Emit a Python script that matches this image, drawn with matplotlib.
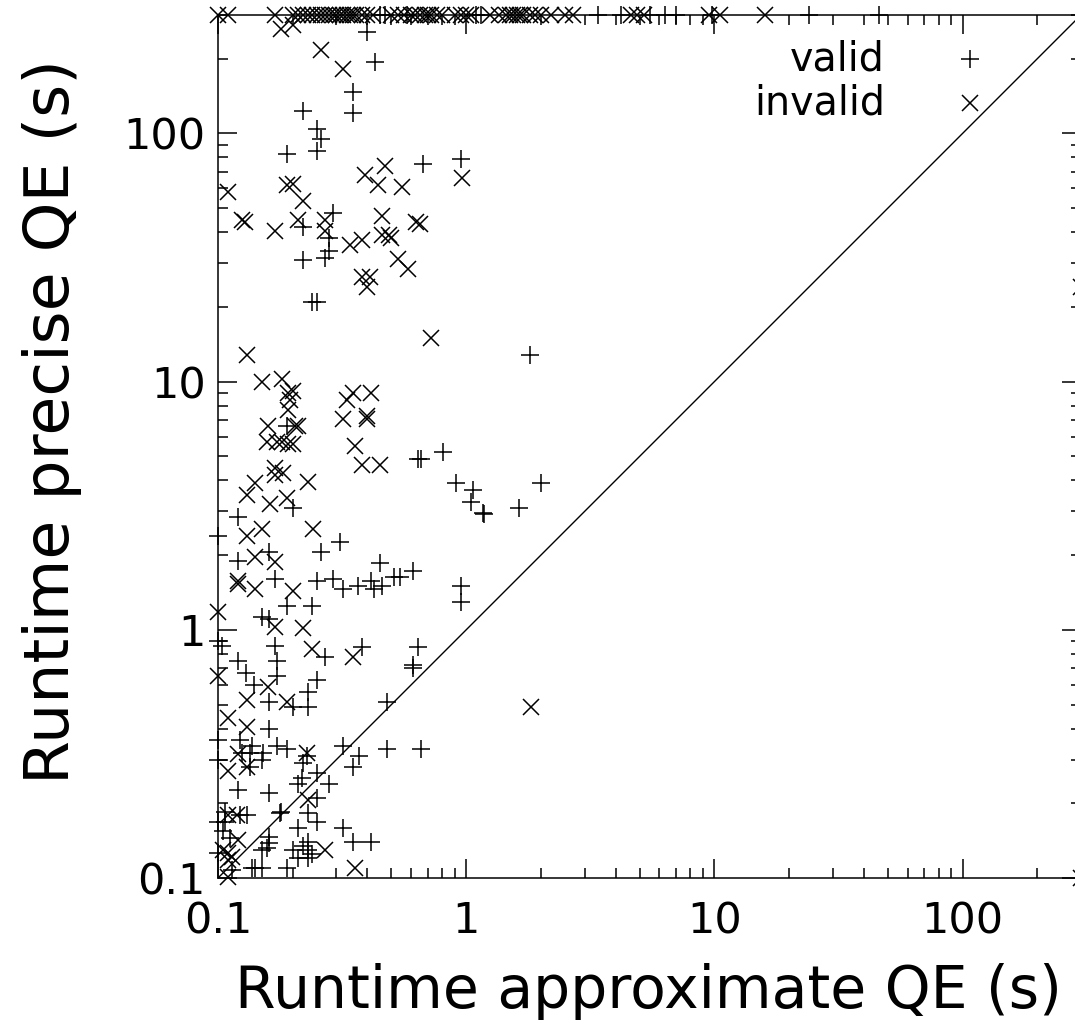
import numpy as np
import matplotlib
matplotlib.use("Agg")
import matplotlib.pyplot as plt
from matplotlib.ticker import LogLocator, FixedLocator, NullFormatter

plt.rcParams['font.family'] = ['DejaVu Sans']

TIMEOUT = 300

# valid runs (+): approximate runtime, precise runtime (s)
valid_x = [0.40, 0.43, 0.35, 0.35, 0.22, 0.25, 0.26, 0.25, 0.19, 0.67, 0.95, 0.29,
           0.22, 0.28, 0.28, 0.22, 0.27, 0.24, 0.25, 1.8,
           0.19, 0.20, 0.12, 0.16, 0.12, 0.17, 0.25, 0.29, 0.32, 0.365, 0.415, 0.427,
           0.46, 0.45, 0.51, 0.54, 0.61, 0.26, 0.31, 0.19, 0.24, 0.15, 0.16, 0.95,
           0.95, 0.64, 0.66, 0.81, 0.91, 1.07, 1.05, 1.17, 1.18, 1.63, 2.0, 0.10, 0.10,
           0.64, 0.38, 0.17, 0.27, 0.173, 0.173, 0.104, 0.12, 0.13, 0.14, 0.16, 0.23,
           0.23, 0.25, 0.20, 0.16, 0.123, 0.137, 0.152, 0.125, 0.134, 0.15, 0.134,
           0.173, 0.19, 0.228, 0.22, 0.21, 0.218, 0.25, 0.28, 0.12, 0.16, 0.25, 0.32,
           0.37, 0.35, 0.48, 0.48, 0.66, 0.61, 0.61, 0.18, 0.178, 0.23, 0.25, 0.21,
           0.32, 0.35, 0.415, 0.23, 0.23, 0.22, 0.20, 0.23, 0.24, 0.21, 0.16, 0.16,
           0.157, 0.15, 0.141, 0.15, 0.19, 0.107, 0.123, 0.131, 0.107, 0.10, 0.114,
           0.137, 0.10, 0.10, 0.10, 0.105, 0.112,
           0.45, 0.47, 0.58, 1.1, 1.15, 3.4, 4.2, 5.5, 6.3, 7.0, 9.8, 24, 46]
valid_y = [256, 194, 147, 121, 123, 104, 95, 85, 83, 75, 79, 48,
           42, 38, 33.5, 31, 31.6, 21, 21, 12.8,
           6.6, 3.1, 2.85, 2.06, 1.9, 1.6, 1.58, 1.6, 1.46, 1.5, 1.58, 1.46,
           1.5, 1.85, 1.63, 1.63, 1.73, 2.06, 2.26, 1.25, 1.25, 1.13, 1.11, 1.5,
           1.29, 4.9, 4.9, 5.2, 3.9, 3.65, 3.26, 2.95, 2.93, 3.1, 3.9, 2.39, 0.9,
           0.85, 0.85, 0.86, 0.78, 0.75, 0.65, 0.86, 0.75, 0.67, 0.6, 0.51, 0.56,
           0.49, 0.63, 0.49, 0.40, 0.36, 0.34, 0.32, 0.32, 0.32, 0.30, 0.28,
           0.34, 0.33, 0.31, 0.29, 0.24, 0.254, 0.266, 0.24, 0.227, 0.22, 0.21, 0.34,
           0.31, 0.28, 0.51, 0.33, 0.33, 0.72, 0.70, 0.185, 0.183, 0.183, 0.168, 0.159,
           0.159, 0.14, 0.14, 0.14, 0.13, 0.135, 0.13, 0.12, 0.125, 0.12, 0.146, 0.139,
           0.132, 0.13, 0.11, 0.11, 0.11, 0.185, 0.18, 0.18, 0.168, 0.168, 0.108,
           0.11, 0.126, 0.36, 0.30, 0.155, 0.145,
           TIMEOUT, TIMEOUT, TIMEOUT, TIMEOUT, TIMEOUT, TIMEOUT, TIMEOUT, TIMEOUT,
           TIMEOUT, TIMEOUT, TIMEOUT, TIMEOUT, TIMEOUT]

# invalid runs (x)
invalid_x = [0.18, 0.20, 0.26, 0.32, 0.47, 0.39, 0.44, 0.55, 0.96, 0.11, 0.19, 0.20,
             0.22, 0.125, 0.128, 0.17, 0.21, 0.27, 0.27, 0.456, 0.456, 0.49, 0.50,
             0.63, 0.65, 0.38, 0.34, 0.53, 0.585, 0.38, 0.41, 0.40, 0.72, 0.131,
             0.15, 0.181, 0.191, 0.195, 0.191, 0.20, 0.204, 0.21, 0.159, 0.157, 0.173,
             0.181, 0.191, 0.20, 0.17, 0.182, 0.17, 0.141, 0.131, 0.162, 0.189, 0.23,
             0.15, 0.131, 0.241, 0.141, 0.17, 0.12, 0.12, 0.141, 0.20, 0.10, 0.17,
             0.22, 0.33, 0.35, 0.415, 0.318, 0.397, 0.40, 0.355, 0.379, 0.448, 0.24,
             0.35, 0.10, 0.159, 0.131, 0.189, 0.11, 0.131, 0.12, 0.11, 0.131, 0.228,
             0.23, 0.12, 0.27, 0.355, 0.11, 0.119, 0.105, 0.11, 0.114, 0.11, 0.11,
             1.83, 300, 300,
             0.10, 0.11, 0.17, 0.20, 0.21, 0.22, 0.23, 0.24, 0.25, 0.26, 0.27, 0.28,
             0.29, 0.30, 0.31, 0.32, 0.33, 0.34, 0.35, 0.36, 0.38, 0.40, 0.42, 0.50,
             0.53, 0.56, 0.60, 0.62, 0.65, 0.68, 0.70, 0.72, 0.76, 0.80, 0.90, 0.95,
             1.0, 1.05, 1.25, 1.35, 1.45, 1.5, 1.55, 1.6, 1.65, 1.7, 1.8, 1.9, 2.0,
             2.2, 2.5, 2.7, 4.6, 4.9, 5.2, 9.5, 10.5, 16]
invalid_y = [264, 274, 217, 182, 74, 68, 62, 61, 66, 58, 62, 62.5,
             53.5, 44.7, 43.8, 40.6, 44.7, 44.7, 40.6, 46.6, 39, 39, 38,
             43.8, 43.3, 37.3, 35.5, 31.2, 28.5, 26.5, 26.5, 24, 15, 12.8,
             10, 10.2, 9.0, 8.4, 7.7, 9.2, 6.6, 6.6, 6.6, 5.7, 5.7,
             5.7, 5.6, 5.6, 4.5, 4.3, 4.2, 3.9, 3.5, 3.2, 3.4, 3.95,
             2.54, 2.39, 2.54, 1.97, 1.88, 1.58, 1.53, 1.46, 1.43, 1.18, 1.03,
             1.02, 8.4, 9.0, 9.0, 7.1, 7.3, 7.1, 5.5, 4.6, 4.6, 0.84,
             0.78, 0.65, 0.59, 0.52, 0.51, 0.44, 0.404, 0.315, 0.27, 0.281, 0.32,
             0.207, 0.142, 0.13, 0.11, 0.18, 0.18, 0.13, 0.126, 0.122, 0.118, 0.101,
             0.49, 24, 0.1] + [TIMEOUT] * 58

fig = plt.figure(figsize=(10.75, 10.27), dpi=100)
ax = fig.add_axes([218 / 1075, 149 / 1027, 863 / 1075, 863 / 1027])

ax.plot([0.1, TIMEOUT], [0.1, TIMEOUT], color='black', lw=1.0)
ax.plot(valid_x, valid_y, ls='none', marker='+', ms=13, mew=1.1, color='black', clip_on=False)
ax.plot(invalid_x, invalid_y, ls='none', marker='x', ms=11, mew=1.1, color='black', clip_on=False)

ax.set_xscale('log')
ax.set_yscale('log')
ax.set_xlim(0.1, TIMEOUT)
ax.set_ylim(0.1, TIMEOUT)

for axis in (ax.xaxis, ax.yaxis):
    axis.set_major_locator(FixedLocator([0.1, 1, 10, 100]))
    axis.set_minor_locator(LogLocator(base=10, subs=np.arange(2, 10)))
    axis.set_minor_formatter(NullFormatter())
ax.set_xticklabels(['0.1', '1', '10', '100'])
ax.set_yticklabels(['0.1', '1', '10', '100'])

ax.tick_params(which='both', direction='in', top=True, right=True, color='black', width=1.1)
ax.tick_params(which='major', length=14, labelsize=31)
ax.tick_params(axis='x', which='major', pad=16)
ax.tick_params(axis='y', which='major', pad=9)
ax.tick_params(which='minor', length=7.5)
for sp in ax.spines.values():
    sp.set_linewidth(1.1)

fig.text(648 / 1075, 1 - 992 / 1027, 'Runtime approximate QE (s)', ha='center', va='center', fontsize=42)
fig.text(52 / 1075, 1 - 422 / 1027, 'Runtime precise QE (s)', ha='center', va='center',
         rotation=90, fontsize=45.5)

# key, gnuplot style: text right aligned, symbol on the right
for label, mk, ms, ya in [('valid', '+', 13, 0.949), ('invalid', 'x', 11, 0.898)]:
    ax.text(0.773, ya, label, transform=ax.transAxes, ha='right', va='center', fontsize=28.5)
    ax.plot([0.871], [ya], transform=ax.transAxes, marker=mk, ms=ms, mew=1.1,
            color='black', ls='none')

fig.savefig('out.png', dpi=100)
